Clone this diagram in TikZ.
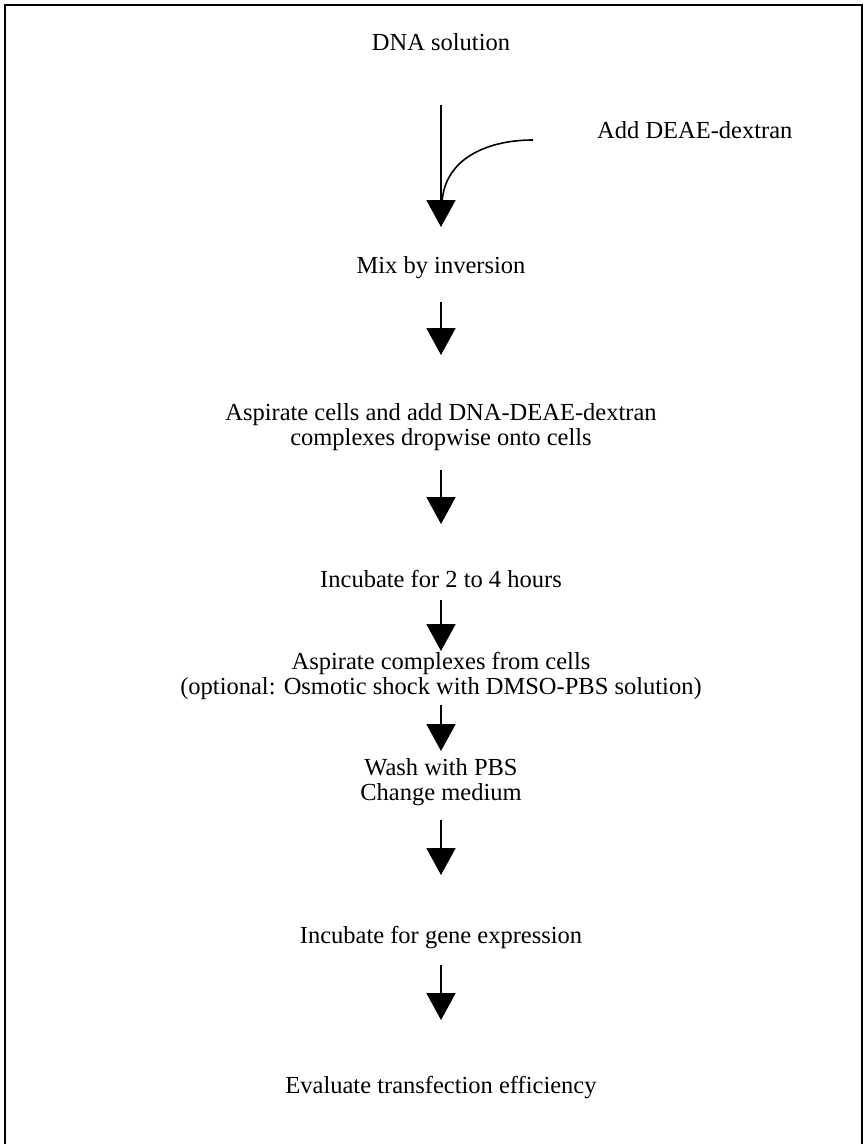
\documentclass[tikz,border=0pt]{standalone}
\usepackage{fontspec}
\setmainfont{Liberation Serif}
\usetikzlibrary{arrows.meta}
\begin{document}
\begin{tikzpicture}[x=1pt,y=-1pt,
  steptext/.style={anchor=base,align=center,inner sep=0pt,font=\fontsize{24.5}{24.5}\selectfont},
  flow/.style={line width=2pt,-{Triangle[width=29pt,length=27pt]}},
  feed/.style={line width=1.6pt}]
  \useasboundingbox (0,0) rectangle (866,1144);
  % open frame round the protocol
  \draw[line width=2.5pt] (5,1150) -- (5,5) -- (862,5) -- (862,1150);

  % protocol steps (base anchor = baseline of the last line)
  \node[steptext] (dna)  at (441,50)  {DNA solution};
  \node[steptext,anchor=base west] (deae) at (597,138) {Add DEAE-dextran};
  \node[steptext] (mix)  at (441,273) {Mix by inversion};
  \node[steptext] (asp)  at (441,445) {Aspirate cells and add DNA-DEAE-dextran\\complexes dropwise onto cells};
  \node[steptext] (inc)  at (441,587) {Incubate for 2 to 4 hours};
  \node[steptext] (aspc) at (441,694) {Aspirate complexes from cells\\(optional: Osmotic shock with DMSO-PBS solution)};
  \node[steptext] (wash) at (441,800) {Wash with PBS\\Change medium};
  \node[steptext] (gene) at (441,943) {Incubate for gene expression};
  \node[steptext] (eval) at (441,1093) {Evaluate transfection efficiency};

  % arrow end points
  \coordinate (a1s) at (441,105);  \coordinate (a1e) at (441,227);
  \coordinate (a2s) at (441,302);  \coordinate (a2e) at (441,355);
  \coordinate (a3s) at (441,470);  \coordinate (a3e) at (441,524);
  \coordinate (a4s) at (441,600);  \coordinate (a4e) at (441,651);
  \coordinate (a5s) at (441,705);  \coordinate (a5e) at (441,751);
  \coordinate (a6s) at (441,820);  \coordinate (a6e) at (441,875);
  \coordinate (a7s) at (441,965);  \coordinate (a7e) at (441,1020);
  \coordinate (cs) at (533,140);   \coordinate (ce) at (442,202);

  \draw[flow] (a1s) -- (a1e);
  \draw[feed] (cs) .. controls (488,140) and (445,158) .. (ce);
  \draw[flow] (a2s) -- (a2e);
  \draw[flow] (a3s) -- (a3e);
  \draw[flow] (a4s) -- (a4e);
  \draw[flow] (a5s) -- (a5e);
  \draw[flow] (a6s) -- (a6e);
  \draw[flow] (a7s) -- (a7e);
\end{tikzpicture}
\end{document}
